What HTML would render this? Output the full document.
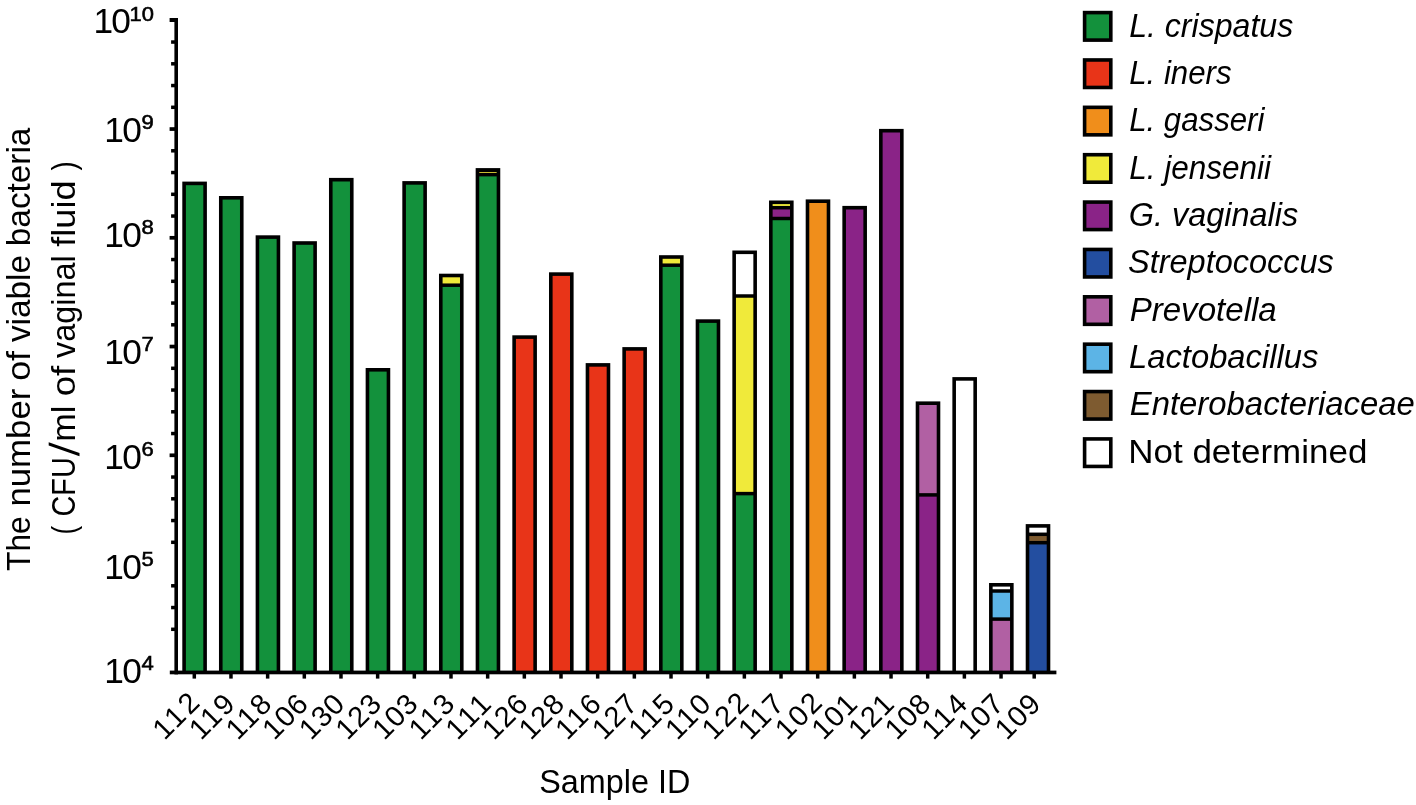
<!DOCTYPE html>
<html><head><meta charset="utf-8"><title>chart</title>
<style>html,body{margin:0;padding:0;background:#fff;}svg{display:block;will-change:transform;}text{font-family:"Liberation Sans",sans-serif;fill:#000;}</style></head>
<body>
<svg width="1416" height="805" viewBox="0 0 1416 805">
<rect x="182.30" y="181.60" width="24.60" height="490.40" fill="#000"/>
<rect x="185.90" y="185.20" width="17.40" height="486.80" fill="#13913c"/>
<rect x="218.97" y="196.00" width="24.60" height="476.00" fill="#000"/>
<rect x="222.57" y="199.60" width="17.40" height="472.40" fill="#13913c"/>
<rect x="255.64" y="235.30" width="24.60" height="436.70" fill="#000"/>
<rect x="259.24" y="238.90" width="17.40" height="433.10" fill="#13913c"/>
<rect x="292.31" y="241.20" width="24.60" height="430.80" fill="#000"/>
<rect x="295.91" y="244.80" width="17.40" height="427.20" fill="#13913c"/>
<rect x="328.98" y="177.90" width="24.60" height="494.10" fill="#000"/>
<rect x="332.58" y="181.50" width="17.40" height="490.50" fill="#13913c"/>
<rect x="365.65" y="368.00" width="24.60" height="304.00" fill="#000"/>
<rect x="369.25" y="371.60" width="17.40" height="300.40" fill="#13913c"/>
<rect x="402.32" y="181.10" width="24.60" height="490.90" fill="#000"/>
<rect x="405.92" y="184.70" width="17.40" height="487.30" fill="#13913c"/>
<rect x="438.99" y="273.70" width="24.60" height="398.30" fill="#000"/>
<rect x="442.59" y="277.30" width="17.40" height="6.15" fill="#f0ea3a"/>
<rect x="442.59" y="286.95" width="17.40" height="385.05" fill="#13913c"/>
<rect x="475.66" y="168.10" width="24.60" height="503.90" fill="#000"/>
<rect x="479.26" y="172.00" width="17.40" height="1.00" fill="#c8bc30"/>
<rect x="479.26" y="176.40" width="17.40" height="495.60" fill="#13913c"/>
<rect x="512.33" y="335.30" width="24.60" height="336.70" fill="#000"/>
<rect x="515.93" y="338.90" width="17.40" height="333.10" fill="#e83418"/>
<rect x="549.00" y="272.30" width="24.60" height="399.70" fill="#000"/>
<rect x="552.60" y="275.90" width="17.40" height="396.10" fill="#e83418"/>
<rect x="585.67" y="363.10" width="24.60" height="308.90" fill="#000"/>
<rect x="589.27" y="366.70" width="17.40" height="305.30" fill="#e83418"/>
<rect x="622.34" y="347.10" width="24.60" height="324.90" fill="#000"/>
<rect x="625.94" y="350.70" width="17.40" height="321.30" fill="#e83418"/>
<rect x="659.01" y="255.20" width="24.60" height="416.80" fill="#000"/>
<rect x="662.61" y="258.80" width="17.40" height="4.65" fill="#f0ea3a"/>
<rect x="662.61" y="266.95" width="17.40" height="405.05" fill="#13913c"/>
<rect x="695.68" y="319.30" width="24.60" height="352.70" fill="#000"/>
<rect x="699.28" y="322.90" width="17.40" height="349.10" fill="#13913c"/>
<rect x="732.35" y="250.50" width="24.60" height="421.50" fill="#000"/>
<rect x="735.95" y="254.10" width="17.40" height="40.15" fill="#ffffff"/>
<rect x="735.95" y="297.75" width="17.40" height="194.10" fill="#f0ea3a"/>
<rect x="735.95" y="495.35" width="17.40" height="176.65" fill="#13913c"/>
<rect x="769.02" y="200.50" width="24.60" height="471.50" fill="#000"/>
<rect x="772.62" y="204.10" width="17.40" height="1.85" fill="#f0ea3a"/>
<rect x="772.62" y="209.45" width="17.40" height="7.30" fill="#8a2387"/>
<rect x="772.62" y="220.25" width="17.40" height="451.75" fill="#13913c"/>
<rect x="805.69" y="199.40" width="24.60" height="472.60" fill="#000"/>
<rect x="809.29" y="203.00" width="17.40" height="469.00" fill="#f08e1b"/>
<rect x="842.36" y="205.90" width="24.60" height="466.10" fill="#000"/>
<rect x="845.96" y="209.50" width="17.40" height="462.50" fill="#8a2387"/>
<rect x="879.03" y="128.90" width="24.60" height="543.10" fill="#000"/>
<rect x="882.63" y="132.50" width="17.40" height="539.50" fill="#8a2387"/>
<rect x="915.70" y="401.40" width="24.60" height="270.60" fill="#000"/>
<rect x="919.30" y="405.00" width="17.40" height="88.15" fill="#b160a3"/>
<rect x="919.30" y="496.65" width="17.40" height="175.35" fill="#8a2387"/>
<rect x="952.37" y="377.10" width="24.60" height="294.90" fill="#000"/>
<rect x="955.97" y="380.70" width="17.40" height="291.30" fill="#ffffff"/>
<rect x="989.04" y="583.00" width="24.60" height="89.00" fill="#000"/>
<rect x="992.64" y="586.60" width="17.40" height="2.65" fill="#ffffff"/>
<rect x="992.64" y="592.75" width="17.40" height="24.60" fill="#5cb4e6"/>
<rect x="992.64" y="620.85" width="17.40" height="51.15" fill="#b160a3"/>
<rect x="1025.71" y="524.10" width="24.60" height="147.90" fill="#000"/>
<rect x="1029.31" y="527.70" width="17.40" height="4.85" fill="#ffffff"/>
<rect x="1029.31" y="536.05" width="17.40" height="4.90" fill="#7e5b30"/>
<rect x="1029.31" y="544.45" width="17.40" height="127.55" fill="#234ea0"/>
<g fill="#000">
<rect x="174.4" y="18" width="3.6" height="656.4"/>
<rect x="169.8" y="670.6" width="886.6" height="3.7"/>
<rect x="169.6" y="18" width="6" height="4"/>
<rect x="171.1" y="40.30" width="4.5" height="3.5"/>
<rect x="171.1" y="62.05" width="4.5" height="3.5"/>
<rect x="171.1" y="83.80" width="4.5" height="3.5"/>
<rect x="171.1" y="105.55" width="4.5" height="3.5"/>
<rect x="169.6" y="127.20" width="6" height="3.7"/>
<rect x="171.1" y="149.05" width="4.5" height="3.5"/>
<rect x="171.1" y="170.80" width="4.5" height="3.5"/>
<rect x="171.1" y="192.55" width="4.5" height="3.5"/>
<rect x="171.1" y="214.30" width="4.5" height="3.5"/>
<rect x="169.6" y="235.95" width="6" height="3.7"/>
<rect x="171.1" y="257.80" width="4.5" height="3.5"/>
<rect x="171.1" y="279.55" width="4.5" height="3.5"/>
<rect x="171.1" y="301.30" width="4.5" height="3.5"/>
<rect x="171.1" y="323.05" width="4.5" height="3.5"/>
<rect x="169.6" y="344.70" width="6" height="3.7"/>
<rect x="171.1" y="366.55" width="4.5" height="3.5"/>
<rect x="171.1" y="388.30" width="4.5" height="3.5"/>
<rect x="171.1" y="410.05" width="4.5" height="3.5"/>
<rect x="171.1" y="431.80" width="4.5" height="3.5"/>
<rect x="169.6" y="453.45" width="6" height="3.7"/>
<rect x="171.1" y="475.30" width="4.5" height="3.5"/>
<rect x="171.1" y="497.05" width="4.5" height="3.5"/>
<rect x="171.1" y="518.80" width="4.5" height="3.5"/>
<rect x="171.1" y="540.55" width="4.5" height="3.5"/>
<rect x="171.1" y="584.05" width="4.5" height="3.5"/>
<rect x="171.1" y="605.80" width="4.5" height="3.5"/>
<rect x="171.1" y="627.55" width="4.5" height="3.5"/>
<rect x="192.55" y="673" width="3.5" height="5.6"/>
<rect x="229.22" y="673" width="3.5" height="5.6"/>
<rect x="265.89" y="673" width="3.5" height="5.6"/>
<rect x="302.56" y="673" width="3.5" height="5.6"/>
<rect x="339.23" y="673" width="3.5" height="5.6"/>
<rect x="375.90" y="673" width="3.5" height="5.6"/>
<rect x="412.57" y="673" width="3.5" height="5.6"/>
<rect x="449.24" y="673" width="3.5" height="5.6"/>
<rect x="485.91" y="673" width="3.5" height="5.6"/>
<rect x="522.58" y="673" width="3.5" height="5.6"/>
<rect x="559.25" y="673" width="3.5" height="5.6"/>
<rect x="595.92" y="673" width="3.5" height="5.6"/>
<rect x="632.59" y="673" width="3.5" height="5.6"/>
<rect x="669.26" y="673" width="3.5" height="5.6"/>
<rect x="705.93" y="673" width="3.5" height="5.6"/>
<rect x="742.60" y="673" width="3.5" height="5.6"/>
<rect x="779.27" y="673" width="3.5" height="5.6"/>
<rect x="815.94" y="673" width="3.5" height="5.6"/>
<rect x="852.61" y="673" width="3.5" height="5.6"/>
<rect x="889.28" y="673" width="3.5" height="5.6"/>
<rect x="925.95" y="673" width="3.5" height="5.6"/>
<rect x="962.62" y="673" width="3.5" height="5.6"/>
<rect x="999.29" y="673" width="3.5" height="5.6"/>
<rect x="1032.45" y="673" width="3.5" height="5.6"/>
</g>
<text x="93.4" y="33.40" font-size="35.3" letter-spacing="-1.8">10</text>
<text x="129.6" y="20.70" font-size="19.8" stroke="#000" stroke-width="0.55" textLength="24.4" lengthAdjust="spacingAndGlyphs">10</text>
<text x="104.3" y="142.30" font-size="35.3" letter-spacing="-1.8">10</text>
<text x="141.5" y="129.40" font-size="19.8" stroke="#000" stroke-width="0.55" textLength="12.3" lengthAdjust="spacingAndGlyphs">9</text>
<text x="104.3" y="246.90" font-size="35.3" letter-spacing="-1.8">10</text>
<text x="141.5" y="234.00" font-size="19.8" stroke="#000" stroke-width="0.55" textLength="12.3" lengthAdjust="spacingAndGlyphs">8</text>
<text x="104.3" y="363.90" font-size="35.3" letter-spacing="-1.8">10</text>
<text x="141.5" y="351.00" font-size="19.8" stroke="#000" stroke-width="0.55" textLength="12.3" lengthAdjust="spacingAndGlyphs">7</text>
<text x="104.3" y="468.50" font-size="35.3" letter-spacing="-1.8">10</text>
<text x="141.5" y="455.60" font-size="19.8" stroke="#000" stroke-width="0.55" textLength="12.3" lengthAdjust="spacingAndGlyphs">6</text>
<text x="104.3" y="578.70" font-size="35.3" letter-spacing="-1.8">10</text>
<text x="141.5" y="565.80" font-size="19.8" stroke="#000" stroke-width="0.55" textLength="12.3" lengthAdjust="spacingAndGlyphs">5</text>
<text x="104.3" y="683.00" font-size="35.3" letter-spacing="-1.8">10</text>
<text x="141.5" y="670.10" font-size="19.8" stroke="#000" stroke-width="0.55" textLength="12.3" lengthAdjust="spacingAndGlyphs">4</text>
<text transform="translate(164.45 741.07) rotate(-45)" font-size="29" textLength="52" lengthAdjust="spacing">112</text>
<text transform="translate(201.07 741.07) rotate(-45)" font-size="29" textLength="50" lengthAdjust="spacing">119</text>
<text transform="translate(237.69 741.07) rotate(-45)" font-size="29" textLength="50" lengthAdjust="spacing">118</text>
<text transform="translate(274.31 741.07) rotate(-45)" font-size="29" textLength="50" lengthAdjust="spacing">106</text>
<text transform="translate(310.93 741.07) rotate(-45)" font-size="29" textLength="50" lengthAdjust="spacing">130</text>
<text transform="translate(347.55 741.07) rotate(-45)" font-size="29" textLength="50" lengthAdjust="spacing">123</text>
<text transform="translate(384.17 741.07) rotate(-45)" font-size="29" textLength="50" lengthAdjust="spacing">103</text>
<text transform="translate(420.79 741.07) rotate(-45)" font-size="29" textLength="50" lengthAdjust="spacing">113</text>
<text transform="translate(457.41 741.07) rotate(-45)" font-size="29" textLength="50" lengthAdjust="spacing">111</text>
<text transform="translate(494.03 741.07) rotate(-45)" font-size="29" textLength="50" lengthAdjust="spacing">126</text>
<text transform="translate(530.65 741.07) rotate(-45)" font-size="29" textLength="50" lengthAdjust="spacing">128</text>
<text transform="translate(567.27 741.07) rotate(-45)" font-size="29" textLength="50" lengthAdjust="spacing">116</text>
<text transform="translate(603.89 741.07) rotate(-45)" font-size="29" textLength="50" lengthAdjust="spacing">127</text>
<text transform="translate(640.51 741.07) rotate(-45)" font-size="29" textLength="50" lengthAdjust="spacing">115</text>
<text transform="translate(677.13 741.07) rotate(-45)" font-size="29" textLength="50" lengthAdjust="spacing">110</text>
<text transform="translate(713.75 741.07) rotate(-45)" font-size="29" textLength="52" lengthAdjust="spacing">122</text>
<text transform="translate(750.37 741.07) rotate(-45)" font-size="29" textLength="50" lengthAdjust="spacing">117</text>
<text transform="translate(786.99 741.07) rotate(-45)" font-size="29" textLength="52" lengthAdjust="spacing">102</text>
<text transform="translate(823.61 741.07) rotate(-45)" font-size="29" textLength="50" lengthAdjust="spacing">101</text>
<text transform="translate(860.23 741.07) rotate(-45)" font-size="29" textLength="50" lengthAdjust="spacing">121</text>
<text transform="translate(896.85 741.07) rotate(-45)" font-size="29" textLength="50" lengthAdjust="spacing">108</text>
<text transform="translate(933.47 741.07) rotate(-45)" font-size="29" textLength="50" lengthAdjust="spacing">114</text>
<text transform="translate(970.09 741.07) rotate(-45)" font-size="29" textLength="50" lengthAdjust="spacing">107</text>
<text transform="translate(1006.71 741.07) rotate(-45)" font-size="29" textLength="50" lengthAdjust="spacing">109</text>
<text x="539.3" y="792.5" font-size="33.3" textLength="151" lengthAdjust="spacingAndGlyphs">Sample ID</text>
<g transform="translate(30.3 0) rotate(-90)" font-size="33.8">
<text x="-571.04" y="0" textLength="54.82" lengthAdjust="spacingAndGlyphs">The</text>
<text x="-506.56" y="0" textLength="117.87" lengthAdjust="spacingAndGlyphs">number</text>
<text x="-380.86" y="0" textLength="29.96" lengthAdjust="spacingAndGlyphs">of</text>
<text x="-342.10" y="0" textLength="87.20" lengthAdjust="spacingAndGlyphs">viable</text>
<text x="-246.17" y="0" textLength="118.47" lengthAdjust="spacingAndGlyphs">bacteria</text>
</g>
<g transform="translate(75.1 0) rotate(-90)" font-size="33.8">
<text x="-534.46" y="0" textLength="8.76" lengthAdjust="spacingAndGlyphs">(</text>
<text x="-516.51" y="0" textLength="59.32" lengthAdjust="spacingAndGlyphs">CFU</text>
<text x="-441.73" y="0" textLength="36.23" lengthAdjust="spacingAndGlyphs">ml</text>
<text x="-396.29" y="0" textLength="30.59" lengthAdjust="spacingAndGlyphs">of</text>
<text x="-358.00" y="0" textLength="102.82" lengthAdjust="spacingAndGlyphs">vaginal</text>
<text x="-246.77" y="0" textLength="66.31" lengthAdjust="spacingAndGlyphs">fluid</text>
<text x="-170.51" y="0" textLength="9.15" lengthAdjust="spacingAndGlyphs">)</text>
</g>
<polygon points="48.7,442.2 48.7,445.4 79.5,456.3 79.5,453.1" fill="#000"/>
<rect x="1084.60" y="12.60" width="26.20" height="27.50" fill="#13913c" stroke="#000" stroke-width="3.6"/>
<text x="1129.16" y="36.50" font-size="34" font-style="italic" textLength="164.05" lengthAdjust="spacingAndGlyphs">L. crispatus</text>
<rect x="1084.60" y="59.97" width="26.20" height="27.50" fill="#e83418" stroke="#000" stroke-width="3.6"/>
<text x="1129.18" y="83.87" font-size="34" font-style="italic" textLength="102.48" lengthAdjust="spacingAndGlyphs">L. iners</text>
<rect x="1084.60" y="107.34" width="26.20" height="27.50" fill="#f08e1b" stroke="#000" stroke-width="3.6"/>
<text x="1129.18" y="131.24" font-size="34" font-style="italic" textLength="135.27" lengthAdjust="spacingAndGlyphs">L. gasseri</text>
<rect x="1084.60" y="154.71" width="26.20" height="27.50" fill="#f0ea3a" stroke="#000" stroke-width="3.6"/>
<text x="1129.17" y="178.61" font-size="34" font-style="italic" textLength="141.9" lengthAdjust="spacingAndGlyphs">L. jensenii</text>
<rect x="1084.60" y="202.08" width="26.20" height="27.50" fill="#8a2387" stroke="#000" stroke-width="3.6"/>
<text x="1128.69" y="225.98" font-size="34" font-style="italic" textLength="169.52" lengthAdjust="spacingAndGlyphs">G. vaginalis</text>
<rect x="1084.60" y="249.45" width="26.20" height="27.50" fill="#234ea0" stroke="#000" stroke-width="3.6"/>
<text x="1128.04" y="273.35" font-size="34" font-style="italic" textLength="205.79" lengthAdjust="spacingAndGlyphs">Streptococcus</text>
<rect x="1084.60" y="296.82" width="26.20" height="27.50" fill="#b160a3" stroke="#000" stroke-width="3.6"/>
<text x="1129.63" y="320.72" font-size="34" font-style="italic" textLength="147.14" lengthAdjust="spacingAndGlyphs">Prevotella</text>
<rect x="1084.60" y="344.19" width="26.20" height="27.50" fill="#5cb4e6" stroke="#000" stroke-width="3.6"/>
<text x="1129.04" y="368.09" font-size="34" font-style="italic" textLength="189.3" lengthAdjust="spacingAndGlyphs">Lactobacillus</text>
<rect x="1084.60" y="391.56" width="26.20" height="27.50" fill="#7e5b30" stroke="#000" stroke-width="3.6"/>
<text x="1129.73" y="415.46" font-size="34" font-style="italic" textLength="285.11" lengthAdjust="spacingAndGlyphs">Enterobacteriaceae</text>
<rect x="1084.60" y="438.93" width="26.20" height="27.50" fill="#ffffff" stroke="#000" stroke-width="3.6"/>
<text x="1128.32" y="462.83" font-size="34" textLength="239.02" lengthAdjust="spacingAndGlyphs">Not determined</text>
</svg>
</body></html>
